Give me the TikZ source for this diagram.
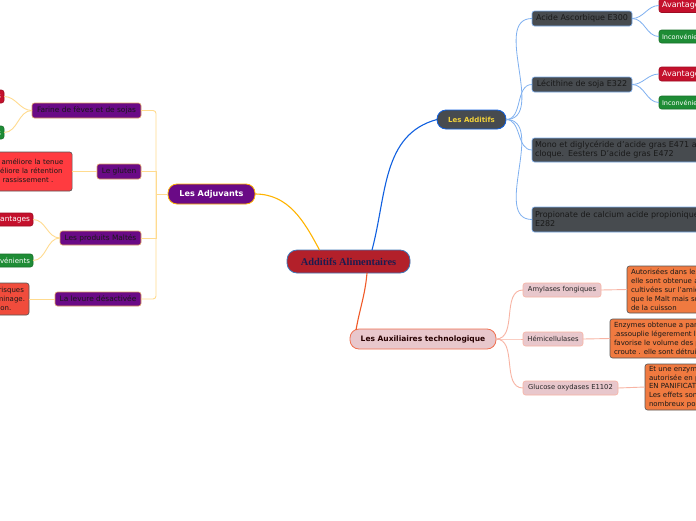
\documentclass[tikz,border=0pt]{standalone}
\usepackage{fontspec}
\setmainfont{DejaVu Sans}
\newfontfamily\serifb{Liberation Serif}
\usetikzlibrary{calc}
\definecolor{cfill}{HTML}{B3202A}
\definecolor{cborder}{HTML}{3F78B8}
\definecolor{ctext}{HTML}{1C1C50}
\definecolor{purp}{HTML}{6A0A86}
\definecolor{adjline}{HTML}{FFB400}
\definecolor{adjsub}{HTML}{FFDB8F}
\definecolor{purpborder}{HTML}{E0A060}
\definecolor{gray1}{HTML}{474B4F}
\definecolor{addline}{HTML}{1060E0}
\definecolor{addsub}{HTML}{7FB0F0}
\definecolor{addtext}{HTML}{F2D23A}
\definecolor{pinkf}{HTML}{E8C7CC}
\definecolor{auxline}{HTML}{F05A28}
\definecolor{auxsub}{HTML}{F8B4A4}
\definecolor{auxborder}{HTML}{F07050}
\definecolor{orng}{HTML}{F07A40}
\definecolor{redA}{HTML}{C4102C}
\definecolor{greenI}{HTML}{1E8C35}
\definecolor{redG}{HTML}{FF3B40}
\definecolor{redL}{HTML}{F04C3C}
\definecolor{darkb}{HTML}{555555}
\begin{document}
\begin{tikzpicture}[x=1pt,y=1pt,
  every node/.style={inner sep=0pt, outer sep=0pt},
  bx/.style={draw, rounded corners=2.5pt, line width=0.6pt, inner xsep=3pt, inner ysep=1pt},
  purpbox/.style={bx, fill=purp, draw=purpborder, text=black!90, inner xsep=2pt, font=\fontsize{7.4}{9}\selectfont},
  graybox/.style={bx, fill=gray1, draw=addsub, text=black!90, font=\fontsize{8}{9.5}\selectfont},
  pinkbox/.style={bx, fill=pinkf, draw=auxsub, text=black!85, font=\fontsize{6.8}{8}\selectfont},
  orbox/.style={bx, fill=orng, draw=darkb, text=black!90, align=left, inner xsep=4pt, font=\fontsize{7}{8.9}\selectfont},
  redtxt/.style={bx, draw=darkb, align=left, inner xsep=4pt, text=black!90, font=\fontsize{7}{9.2}\selectfont},
  avbox/.style={bx, fill=redA, draw=redA!80!black, text=white},
  inbox/.style={bx, fill=greenI, draw=greenI!80!black, text=white},
  adjl/.style={draw=adjsub, line width=0.9pt},
  addl/.style={draw=addsub, line width=0.8pt},
  auxl/.style={draw=auxsub, line width=0.9pt}
]
\useasboundingbox (0,0) rectangle (696,-520);
\fill[white] (0,0) rectangle (696,-520);
\clip (0,0) rectangle (696,-520);

% main topics
\node[draw=cborder, fill=cfill, line width=0.8pt, rounded corners=10pt, minimum width=123pt, minimum height=23pt, text=ctext, font=\serifb\bfseries\fontsize{10.4}{12}\selectfont] (main) at (348.5,-261.5) {Additifs Alimentaires};
\node[draw=adjline, fill=purp, line width=0.8pt, rounded corners=9pt, minimum width=87pt, minimum height=20pt, text=white, font=\bfseries\fontsize{8.1}{9}\selectfont] (adj) at (211.5,-194) {Les Adjuvants};
\node[draw=addline, fill=gray1, line width=0.8pt, rounded corners=9pt, minimum width=69pt, minimum height=19pt, text=addtext, font=\bfseries\fontsize{7}{8}\selectfont] (add) at (471.5,-119.5) {Les Additifs};
\node[draw=auxborder, fill=pinkf, line width=0.8pt, rounded corners=9pt, minimum width=146pt, minimum height=20pt, text=black!85!red, font=\bfseries\fontsize{7.5}{8}\selectfont] (aux) at (423,-339) {Les Auxiliaires technologique};

\draw[adjline, line width=1.1pt] ($(main.north)+(-29,0)$) to[out=118,in=0] (adj.east);
\draw[addline, line width=1.1pt] ($(main.north)+(23.5,0)$) to[out=75,in=195] (add.west);
\draw[auxline, line width=1.1pt] ($(main.south)+(18.5,0)$) to[out=-95,in=80] ($(aux.north west)+(6,-1)$);

% Adjuvants branch
\node[purpbox, minimum width=109pt, minimum height=15pt] (farine) at (86.5,-110.5) {Farine de fèves et de sojas};
\node[purpbox, minimum width=44pt, minimum height=15pt] (gluten) at (119,-171.5) {Le gluten};
\node[purpbox, minimum width=81pt, minimum height=14pt] (maltes) at (100.5,-238) {Les produits Maltés};
\node[purpbox, minimum width=86pt, minimum height=14pt] (levure) at (98,-299) {La levure désactivée};
\coordinate (bar) at (156,-194);
\draw[adjl] (adj.west) -- (bar);
\draw[adjl, rounded corners=3pt] (farine.east) -| (bar);
\draw[adjl, rounded corners=3pt] (levure.east) -| (bar);
\draw[adjl] (gluten.east) -| (bar);
\draw[adjl] (maltes.east) -| (bar);

\node[avbox, anchor=east, minimum height=13pt, font=\fontsize{7.4}{8}\selectfont] (fav) at (4,-96.5) {Avantages};
\node[inbox, anchor=east, minimum height=13pt, font=\fontsize{7}{8}\selectfont] (finc) at (4,-132.5) {Inconvénients};
\draw[adjl] (farine.west) to[out=180,in=0] (fav.east);
\draw[adjl] (farine.west) to[out=180,in=0] (finc.east);

\node[redtxt, fill=redG, anchor=west, text width=119pt, minimum height=39pt] (glt) at (-54.9,-171.5) {Le gluten vital améliore la tenue\\de la pâte, améliore la rétention\\gaz, retarde le rassissement .};
\draw[adjl] (gluten.west) -- (glt.east);

\node[avbox, anchor=east, minimum height=13pt, font=\fontsize{7.4}{8}\selectfont] (mav) at (33,-219.5) {Avantages};
\node[inbox, anchor=east, minimum height=13pt, font=\fontsize{7}{8}\selectfont] (minc) at (33,-260.5) {Inconvénients};
\draw[adjl] (maltes.west) to[out=180,in=0] (mav.east);
\draw[adjl] (maltes.west) to[out=180,in=0] (minc.east);

\node[redtxt, fill=redL, anchor=east, minimum height=32pt, font=\fontsize{7}{9}\selectfont] (levt) at (29,-299) {Elle diminue les risques\\de collage au laminage.\\Améliore la cuisson.};
\draw[adjl] (levure.west) -- (levt.east);

% Additifs branch
\node[graybox, minimum width=100pt, minimum height=15pt] (asc) at (582,-18.5) {Acide Ascorbique E300};
\node[graybox, minimum width=100pt, minimum height=15pt] (lec) at (582,-84.5) {Lécithine de soja E322};
\node[graybox, anchor=west, text width=200pt, align=left, minimum height=24pt, font=\fontsize{8}{9}\selectfont] (mono) at (532,-150) {Mono et diglycéride d'acide gras E471 anti\\cloque. Eesters D'acide gras E472};
\node[graybox, anchor=west, text width=200pt, align=left, minimum height=25pt, font=\fontsize{8}{9}\selectfont] (prop) at (532,-219.5) {Propionate de calcium acide propionique\\E282};
\foreach \n in {asc,lec,mono,prop} \draw[addl] (add.east) to[out=0,in=180] (\n.west);

\node[avbox, anchor=west, minimum height=14pt, font=\fontsize{8}{9}\selectfont] (aav) at (659,-5.5) {Avantages};
\node[inbox, anchor=west, minimum height=13pt, font=\fontsize{6.5}{8}\selectfont] (ainc) at (659,-36.5) {Inconvénients};
\node[avbox, anchor=west, minimum height=14pt, font=\fontsize{8}{9}\selectfont] (lav) at (659,-74) {Avantages};
\node[inbox, anchor=west, minimum height=13pt, font=\fontsize{6.5}{8}\selectfont] (linc) at (659,-102.5) {Inconvénients};
\draw[addl] (asc.east) to[out=0,in=180] (aav.west);
\draw[addl] (asc.east) to[out=0,in=180] (ainc.west);
\draw[addl] (lec.east) to[out=0,in=180] (lav.west);
\draw[addl] (lec.east) to[out=0,in=180] (linc.west);

% Auxiliaires branch
\node[pinkbox, minimum width=78pt, minimum height=14pt] (amy) at (562,-290) {Amylases fongiques};
\node[pinkbox, minimum width=60pt, minimum height=14pt] (hemi) at (553,-339) {Hémicellulases};
\node[pinkbox, minimum width=95pt, minimum height=14pt] (gluc) at (570.5,-388) {Glucose oxydases E1102};
\foreach \n in {amy,hemi,gluc} \draw[auxl] (aux.east) to[out=0,in=180] (\n.west);

\node[orbox, anchor=west, minimum height=47pt] (amyt) at (627,-289.5) {Autorisées dans les farines,\\elle sont obtenue a partir de moisissures\\cultivées sur l'amidon, elles agissent comme\\que le Malt mais sont détruites au début\\de la cuisson};
\node[orbox, anchor=west, minimum height=39pt] (hemit) at (610,-338.5) {Enzymes obtenue a partir de moisissures\\.assouplie légerement la pâte,\\favorise le volume des pains et la\\croute . elle sont détruites à la cuisson};
\node[orbox, anchor=west, minimum height=46pt] (gluct) at (645,-387) {Et une enzyme oxydante\\autorisée en panification\\EN PANIFICATION\\Les effets sont\\nombreux pour la pâte};
\draw[auxl] (amy.east) -- (amyt.west);
\draw[auxl] (hemi.east) -- (hemit.west);
\draw[auxl] (gluc.east) -- (gluct.west);
\end{tikzpicture}
\end{document}
